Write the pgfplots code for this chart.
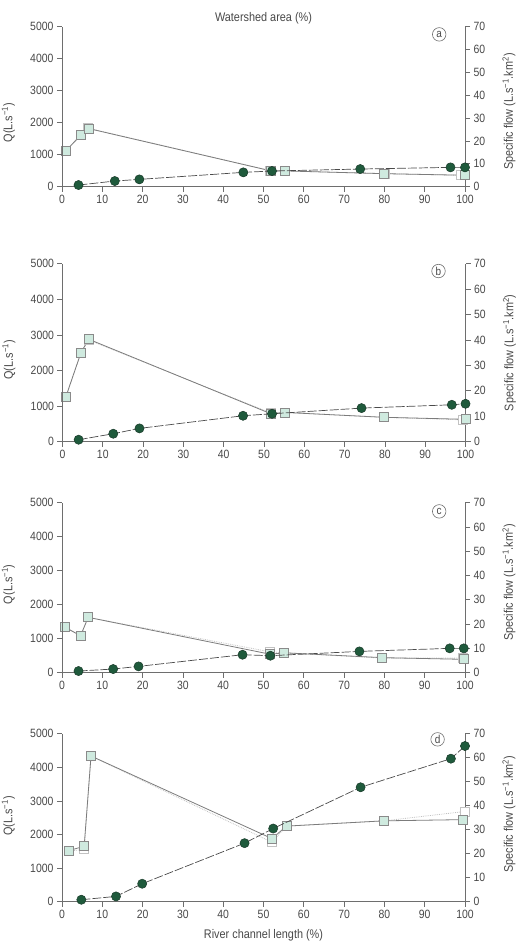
\documentclass[border=0pt]{standalone}
\usepackage{fontspec}
\setmainfont{Liberation Sans}[FakeStretch=0.87]
\usepackage{pgfplots}
\pgfplotsset{compat=1.18}

\definecolor{axisgray}{HTML}{6E6E6E}
\definecolor{labelgray}{HTML}{484848}
\definecolor{darkgreen}{HTML}{1F5A3C}
\definecolor{circedge}{HTML}{1A3A2A}
\definecolor{mint}{HTML}{CFEADF}
\definecolor{sqedge}{HTML}{8A8A8A}
\definecolor{opengray}{HTML}{C2C2C2}
\definecolor{qline}{HTML}{4A4A4A}

\tikzset{
  plabel/.style={circle, draw=axisgray, line width=0.6pt, inner sep=0pt,
    minimum size=13.5pt, font=\fontsize{11.5}{12}\selectfont, text=labelgray},
}

\pgfplotsset{
  base/.style={
    scale only axis, width=403pt, xmin=0, xmax=100, clip=false,
    axis line style={draw=axisgray, line width=0.8pt},
    tick style={draw=axisgray, line width=0.8pt},
    major tick length=5pt, tick align=outside,
    ticklabel style={font=\fontsize{12}{14}\selectfont, text=labelgray},
    label style={font=\fontsize{12.5}{14}\selectfont, text=labelgray},
    /pgf/number format/assume math mode=true,
    /pgf/number format/set thousands separator={},
  },
  leftax/.style={
    base, axis y line*=left, axis x line*=bottom,
    ymin=0, ymax=5000, ytick={0,1000,...,5000}, xtick={0,10,...,100},
    ylabel={Q(L.s\textsuperscript{−1})},
    ylabel style={at={(axis description cs:-0.133,#1)}, anchor=center, rotate=0},
  },
  rightax/.style={
    base, axis y line*=right, axis x line=none,
    ymin=0, ymax=70, ytick={0,10,...,70},
    ylabel={Specific flow (L.s\textsuperscript{−1}.km\textsuperscript{2})},
    ylabel style={at={(axis description cs:1.109,#1)}, anchor=center, rotate=0},
  },
  qflow/.style={draw=qline, line width=0.7pt, dash pattern=on 9pt off 2pt,
    mark=*, mark size=4.6pt,
    mark options={solid, fill=darkgreen, draw=circedge, line width=0.5pt}},
  sflow/.style={draw=sqedge!90!black, line width=0.8pt,
    mark=square*, mark size=4.5pt,
    mark options={solid, fill=mint, draw=sqedge, line width=0.9pt}},
  sflowalt/.style={draw=opengray, line width=0.8pt, densely dotted,
    mark=square*, mark size=4.5pt,
    mark options={solid, fill=white, draw=opengray, line width=0.8pt}},
}

\begin{document}
\begin{tikzpicture}
\useasboundingbox (0pt,0pt) rectangle (517pt,-944pt);

% ---------- panel a ----------
\begin{axis}[rightax=0.47, at={(62pt,-186.7pt)}, anchor=south west, height=160pt]
  \addplot[sflowalt] coordinates {(1.0,15.8) (4.7,22.8) (6.5,25.6) (51.6,7.1) (55.4,6.9) (80.0,5.7) (98.9,5.0)};
  \addplot[sflow] coordinates {(1.0,15.8) (4.7,22.6) (6.7,25.4) (51.9,6.9) (55.4,6.9) (80.0,5.7) (100,5.0)};
\end{axis}
\begin{axis}[leftax=0.40, at={(62pt,-186.7pt)}, anchor=south west, height=160pt,
  title={Watershed area (\%)},
  title style={at={(0.5,1)}, anchor=south, yshift=-7pt, font=\fontsize{12.5}{14}\selectfont, text=labelgray}]
  \addplot[qflow] coordinates {(4.1,52) (13.1,177) (19.2,229) (45.0,448) (52.1,490) (74.0,552) (96.4,604) (100,604)};
  \node[plabel] at (axis cs:93.6,4760) {a};
\end{axis}

% ---------- panel b ----------
\begin{axis}[rightax=0.50, at={(62.5pt,-441.7pt)}, anchor=south west, height=178pt]
  \addplot[sflowalt] coordinates {(0.8,17.5) (4.6,35.1) (6.5,40.0) (51.7,11.3) (55.3,11.5) (79.7,9.6) (99.4,8.6)};
  \addplot[sflow] coordinates {(0.8,17.5) (4.6,35.1) (6.5,40.3) (51.7,11.0) (55.3,11.5) (79.7,9.6) (100,8.8)};
\end{axis}
\begin{axis}[leftax=0.46, at={(62.5pt,-441.7pt)}, anchor=south west, height=178pt]
  \addplot[qflow] coordinates {(4.0,56) (12.6,224) (19.1,374) (44.8,729) (52.0,785) (74.2,944) (96.6,1037) (100,1065)};
  \node[plabel] at (axis cs:93.3,4794) {b};
\end{axis}

% ---------- panel c ----------
\begin{axis}[rightax=0.53, at={(62pt,-672.7pt)}, anchor=south west, height=170pt]
  \addplot[sflowalt] coordinates {(0.8,18.7) (4.6,15.2) (6.5,22.8) (51.6,8.6) (55.1,8.2) (79.5,6.0) (99.4,6.0)};
  \addplot[sflow] coordinates {(0.8,18.7) (4.6,15.2) (6.5,22.8) (51.7,7.6) (55.1,8.2) (79.5,6.2) (99.8,5.5)};
\end{axis}
\begin{axis}[leftax=0.52, at={(62pt,-672.7pt)}, anchor=south west, height=170pt]
  \addplot[qflow] coordinates {(4.1,49) (12.7,108) (19.0,186) (44.8,529) (51.7,500) (73.8,627) (96.2,716) (99.7,716)};
  \node[plabel] at (axis cs:93.6,4745) {c};
\end{axis}

% ---------- panel d ----------
\begin{axis}[rightax=0.52, at={(62pt,-901.7pt)}, anchor=south west, height=168pt]
  \addplot[sflowalt] coordinates {(1.7,21.1) (5.5,21.8) (7.2,60.7) (52.1,24.8) (55.7,31.5) (79.9,33.7) (100,37.6)};
  \addplot[sflow] coordinates {(1.7,21.3) (5.5,23.1) (7.2,60.7) (52.1,26.3) (55.7,31.5) (79.9,33.7) (99.6,34.2)};
\end{axis}
\begin{axis}[leftax=0.51, at={(62pt,-901.7pt)}, anchor=south west, height=168pt,
  xlabel={River channel length (\%)},
  xlabel style={font=\fontsize{12.5}{14}\selectfont, text=labelgray, yshift=-4pt}]
  \addplot[qflow] coordinates {(4.8,59) (13.4,158) (19.9,535) (45.3,1743) (52.4,2178) (74.1,3406) (96.5,4257) (100,4634)};
  \node[plabel] at (axis cs:93.2,4832) {d};
\end{axis}
\end{tikzpicture}
\end{document}
